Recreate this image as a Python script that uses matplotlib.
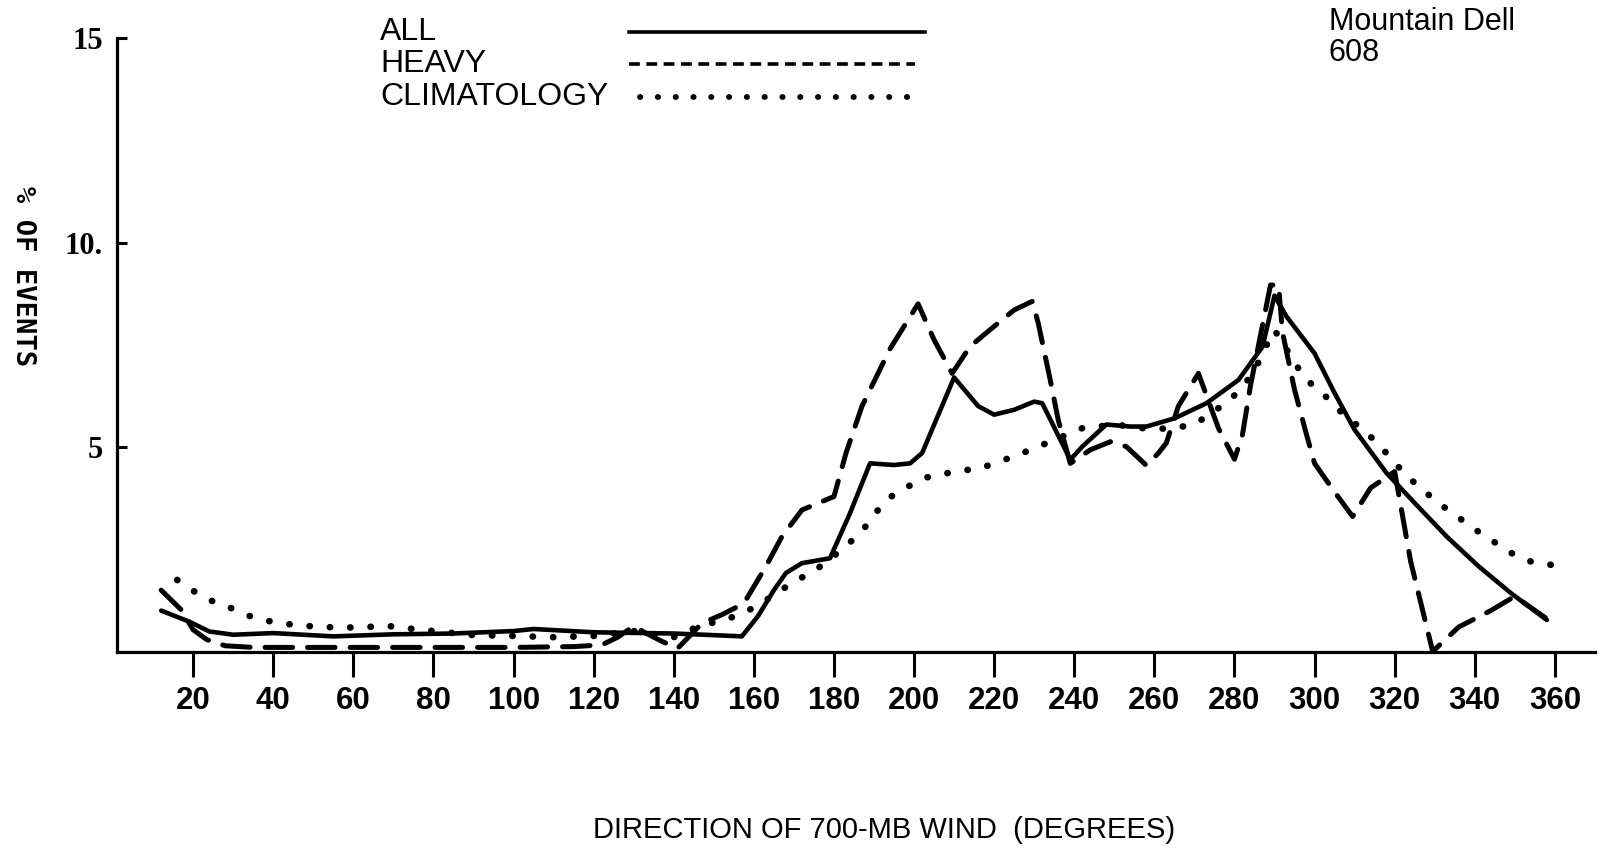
import matplotlib
matplotlib.use("Agg")
import matplotlib.pyplot as plt
from matplotlib.lines import Line2D

# ---- data ----
all_dir = [12, 19, 24, 30, 40, 55, 70, 85, 100, 105, 120, 140, 150, 157, 161, 165, 168,
           172, 179, 184, 189, 195, 199, 202, 210, 216, 220, 225, 230, 232, 239, 242, 248,
           254, 258, 265, 273, 281, 287, 290, 293, 300, 305, 310, 318, 325, 333, 341, 349, 358]
all_pct = [1.0, 0.73, 0.49, 0.41, 0.45, 0.37, 0.42, 0.44, 0.5, 0.55, 0.47, 0.44, 0.4, 0.37, 0.86,
           1.5, 1.92, 2.16, 2.28, 3.38, 4.6, 4.56, 4.6, 4.85, 6.7, 6.0, 5.79, 5.91, 6.11, 6.07,
           4.69, 5.01, 5.55, 5.5, 5.5, 5.7, 6.07, 6.64, 7.45, 8.7, 8.19, 7.29, 6.32, 5.42, 4.36,
           3.63, 2.81, 2.08, 1.43, 0.77]

heavy_dir = [12, 17, 20, 23.4, 28, 35, 45, 60, 80, 100, 115, 122, 126, 130, 133, 137, 141,
             147, 152, 156, 158, 163, 167, 172, 180, 183, 187, 194, 201, 205, 209.5, 214, 220,
             225, 229.5, 231, 234, 236, 239, 244, 249, 253, 258, 261, 263, 266, 271, 276, 280,
             282, 284, 289, 291, 292, 295, 298, 300, 305, 309.5, 314, 320, 324, 327, 329.5,
             336, 344, 350, 358]
heavy_pct = [1.5, 1.02, 0.53, 0.29, 0.14, 0.1, 0.1, 0.1, 0.1, 0.1, 0.12, 0.16, 0.35, 0.62,
             0.45, 0.25, 0.08, 0.69, 0.9, 1.1, 1.26, 2.08, 2.81, 3.46, 3.79, 4.85, 6.0, 7.4,
             8.5, 7.62, 6.8, 7.46, 7.95, 8.35, 8.56, 8.03, 6.64, 5.66, 4.6, 4.93, 5.13, 5.01,
             4.55, 4.85, 5.1, 6.0, 6.8, 5.46, 4.7, 5.3, 6.5, 8.96, 8.96, 7.8, 6.4, 5.3, 4.6,
             3.9, 3.3, 4.0, 4.4, 2.2, 1.0, 0.0, 0.6, 1.0, 1.35, 0.8]

clim_dir = [16, 19.6, 22.5, 26, 29.5, 33, 37.4, 42, 47, 51, 57, 63, 69, 75, 80, 90, 100, 110,
            120, 130, 140, 147, 152, 157.5, 162.5, 170, 175, 183, 187.6, 191, 194.3, 197.7,
            202.3, 206.4, 210.2, 216.5, 221.5, 226, 230, 234, 242, 246, 250, 258, 264, 270,
            276, 279.3, 282, 285, 287, 290, 297, 301, 303.4, 306, 312, 315.4, 322, 325, 328,
            331, 334.4, 338.5, 342.6, 346, 349.3, 354, 359]
clim_pct = [1.75, 1.51, 1.33, 1.18, 1.06, 0.9, 0.77, 0.69, 0.63, 0.61, 0.58, 0.6, 0.62, 0.55,
            0.5, 0.4, 0.38, 0.35, 0.38, 0.5, 0.35, 0.65, 0.75, 0.94, 1.22, 1.71, 1.96, 2.57,
            3.02, 3.46, 3.79, 3.99, 4.24, 4.32, 4.4, 4.48, 4.65, 4.81, 4.97, 5.13, 5.46, 5.5,
            5.55, 5.45, 5.45, 5.55, 5.95, 6.19, 6.48, 6.85, 7.3, 7.86, 6.76, 6.36, 6.19, 5.91,
            5.42, 5.13, 4.4, 4.12, 3.87, 3.63, 3.38, 3.1, 2.81, 2.61, 2.4, 2.2, 2.12]

x_ticks = list(range(20, 361, 20))
y_ticks = [5, 10, 15]
y_tick_labels = ["5", "10.", "15"]
legend_labels = ["ALL", "HEAVY", "CLIMATOLOGY"]
station_lines = ["Mountain Dell", "608"]
x_label = "DIRECTION OF 700-MB WIND  (DEGREES)"
y_label = "% OF EVENTS"

SANS = ["Liberation Sans", "DejaVu Sans"]

# ---- figure ----
W, H = 1603, 852
fig = plt.figure(figsize=(W / 100, H / 100), dpi=100)
ax = fig.add_axes([117.1 / W, 200.5 / H, 1477.8 / W, 613.5 / H])
ax.set_xlim(1, 370)
ax.set_ylim(0, 15)

ax.plot(all_dir, all_pct, color="black", lw=3.3, solid_joinstyle="round",
        solid_capstyle="round", clip_on=False)
ax.plot(heavy_dir, heavy_pct, color="black", lw=3.6, linestyle=(0, (5.5, 3.0)),
        dash_capstyle="round", dash_joinstyle="round", clip_on=False)
ax.plot(clim_dir, clim_pct, color="black", lw=4.8, linestyle=(0, (0.05, 3.0)),
        dash_capstyle="round", clip_on=False)

for s in ("top", "right"):
    ax.spines[s].set_visible(False)
for s in ("left", "bottom"):
    ax.spines[s].set_linewidth(2.3)

ax.set_xticks(x_ticks)
ax.set_xticklabels([str(t) for t in x_ticks])
ax.set_yticks(y_ticks)
ax.set_yticklabels(y_tick_labels)
ax.tick_params(axis="x", direction="out", length=18, width=2.2, pad=7, labelsize=22.5)
ax.tick_params(axis="y", direction="in", length=7, width=2.2, pad=10, labelsize=22)
for lbl in ax.get_xticklabels():
    lbl.set_fontfamily(SANS)
    lbl.set_fontweight("bold")
for lbl in ax.get_yticklabels():
    lbl.set_fontfamily(["Liberation Serif", "DejaVu Serif"])
    lbl.set_fontweight("bold")

# axis titles
fig.text(884 / W, 1 - 830 / H, x_label, ha="center", va="center", fontsize=21,
         family=SANS)
fig.text(23 / W, 1 - 276 / H, y_label, ha="center", va="center", rotation=270,
         fontsize=19.5, family="DejaVu Sans Mono", fontweight="bold")

# legend (text left, sample line right)
leg_y = [32, 63.5, 97]
leg_styles = [dict(lw=2.6, linestyle="-"),
              dict(lw=2.6, linestyle=(0, (3.0, 1.8))),
              dict(lw=4.2, linestyle=(0, (0.05, 3.0)), dash_capstyle="round")]
leg_x0 = [629, 629, 640]
leg_x1 = [925, 915, 915]
for lab, y, st, xa, xb in zip(legend_labels, leg_y, leg_styles, leg_x0, leg_x1):
    fig.text(380 / W, 1 - y / H, lab, ha="left", va="center", fontsize=23,
             family=SANS)
    fig.add_artist(Line2D([xa / W, xb / W], [1 - y / H, 1 - y / H],
                          transform=fig.transFigure, color="black", **st))

# station label
fig.text(1329 / W, 1 - 22.5 / H, station_lines[0], ha="left", va="center", fontsize=22,
         family=SANS)
fig.text(1329 / W, 1 - 53 / H, station_lines[1], ha="left", va="center", fontsize=22,
         family=SANS)

fig.savefig("out.png", dpi=100, facecolor="white")
